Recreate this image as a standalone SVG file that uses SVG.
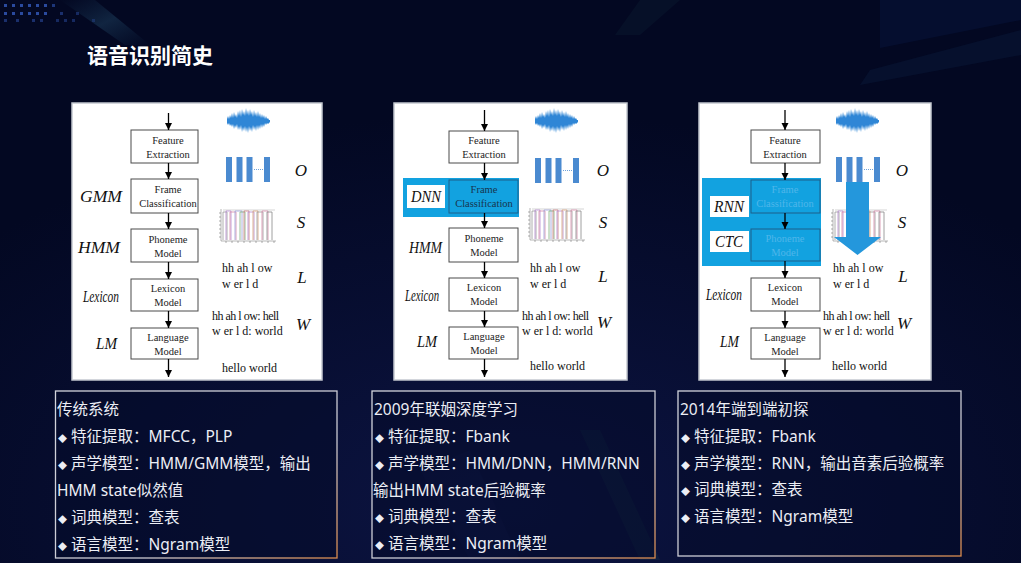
<svg xmlns="http://www.w3.org/2000/svg" width="1021" height="563" viewBox="0 0 1021 563">
<defs>
  <radialGradient id="bgGlow" cx="0.5" cy="0.9" r="0.7">
    <stop offset="0" stop-color="#0c1442"/>
    <stop offset="1" stop-color="#030822"/>
  </radialGradient>
  <linearGradient id="streak" x1="0" y1="0" x2="1" y2="1">
    <stop offset="0" stop-color="#1f4a6a" stop-opacity="0"/>
    <stop offset="0.5" stop-color="#2a5a7a" stop-opacity="0.35"/>
    <stop offset="1" stop-color="#1f4a6a" stop-opacity="0"/>
  </linearGradient>
  <linearGradient id="boxBorder" x1="0" y1="0" x2="1" y2="1">
    <stop offset="0" stop-color="#d2d4dc"/>
    <stop offset="0.65" stop-color="#c9c9d2"/>
    <stop offset="1" stop-color="#d98a4c"/>
  </linearGradient>
  <marker id="ah" markerUnits="userSpaceOnUse" markerWidth="7" markerHeight="8" refX="7" refY="3.5" orient="auto">
    <path d="M0,0 L7,3.5 L0,7 z" fill="#000"/>
  </marker>
  <g id="wave">
    <polygon fill="#2f86d6" points="0,-2 1,-5 2,-2 3,-6 4,-3 5,-8 6,-3 7,-9 8,-4 9,-7 10,-3 11,-10 12,-5 13,-11 14,-4 15,-12 16,-6 17,-10 18,-5 19,-13 20,-6 21,-11 22,-5 23,-12 24,-6 25,-10 26,-4 27,-11 28,-5 29,-9 30,-4 31,-10 32,-4 33,-8 34,-3 35,-7 36,-3 37,-6 38,-2 39,-5 40,-2 41,-3 42,-1 43,-1 43,1 42,2 41,3 40,2 39,4 38,2 37,6 36,3 35,7 34,3 33,8 32,4 31,9 30,4 29,10 28,5 27,9 26,4 25,11 24,6 23,10 22,5 21,12 20,6 19,11 18,5 17,10 16,6 15,11 14,4 13,9 12,5 11,9 10,3 9,7 8,4 7,8 6,3 5,6 4,3 3,5 2,2 1,4 0,2"/>
  </g>
  <g id="bars" fill="#4a8ad0">
    <rect x="0" y="0" width="6" height="25"/>
    <rect x="10.5" y="0" width="6" height="25"/>
    <rect x="20.5" y="0" width="6" height="25"/>
    <path d="M28,12.5H37" stroke="#4a8ad0" stroke-width="0.8" stroke-dasharray="1 1"/>
    <rect x="38" y="0" width="6" height="25"/>
  </g>
  <g id="chart" fill="none" stroke-width="0.8">
    <path d="M3,2V34H58" stroke="#888" stroke-width="0.6"/>
    <path d="M1,6H3M1,10H3M1,14H3M1,18H3M1,22H3M1,26H3M1,30H3M8,34V36M14,34V36M20,34V36M26,34V36M32,34V36M38,34V36M44,34V36M50,34V36M56,34V36" stroke="#777" stroke-width="0.6"/>
    <path d="M5,3H57" stroke="#bbb" stroke-width="0.6"/>
    <path d="M5,33V5H9V33" stroke="#9a9a9a"/>
    <path d="M8,33V4H13V33" stroke="#b58ad0"/>
    <path d="M12,33V5H18V33" stroke="#d68aa8"/>
    <path d="M17,33V4H24V33" stroke="#9aa0d8"/>
    <path d="M22,33V5H27V33" stroke="#7fb07f"/>
    <path d="M26,33V4H31V33" stroke="#c87c7c"/>
    <path d="M30,33V5H36V33" stroke="#b58ad0"/>
    <path d="M35,33V4H40V33" stroke="#d6a07a"/>
    <path d="M39,33V5H45V33" stroke="#9a9a9a"/>
    <path d="M44,33V4H50V33" stroke="#d68aa8"/>
    <path d="M49,33V5H54V33" stroke="#888"/>
  </g>
</defs>
<style>
  .panel { fill: #ffffff; stroke: #c4c8d0; stroke-width: 1.5; }
  .box { fill: #ffffff; stroke: #4a4a4a; stroke-width: 1; }
  .bt { font-family: "Liberation Serif", "Times New Roman", serif; font-size: 10.5px; fill: #222; text-anchor: middle; }
  .lbl { font-family: "Liberation Serif", "Times New Roman", serif; font-style: italic; font-size: 16px; fill: #111; }
  .osl { font-family: "Liberation Serif", "Times New Roman", serif; font-style: italic; font-size: 17px; fill: #111; text-anchor: middle; }
  .ph { font-family: "Liberation Serif", "Times New Roman", serif; font-size: 12px; fill: #111; }
  .tight { letter-spacing: -0.5px; }
  .blue { fill: #12a2e0; }
  .ibox { fill: #12a2e0; stroke: #1d5f8a; stroke-width: 1; }
  .wbox { fill: #ffffff; }
  .fade { fill: #4fb6ea; }
  .dk { fill: #18344f; }
  .conn line { stroke: #000; stroke-width: 1.3; marker-end: url(#ah); }
  .tbox { fill: #050b2c; fill-opacity: 0.6; stroke: url(#boxBorder); stroke-width: 1.3; }
  .tx { font-family: "Noto Sans", "Noto Sans CJK SC", sans-serif; font-size: 15.5px; fill: #eceef5; }
  .bul { font-size: 9px; }
  .title { font-family: "Noto Sans CJK SC", "Noto Sans", sans-serif; font-size: 21px; font-weight: bold; fill: #ffffff; }
  .dot { fill: #2a4a9e; }
</style>

<!-- background -->
<rect x="0" y="0" width="1021" height="563" fill="url(#bgGlow)"/>
<polygon points="60,0 95,0 150,45 125,45" fill="url(#streak)"/>
<polygon points="640,0 680,0 640,35 615,35" fill="#16303f" opacity="0.2"/>
<polygon points="880,0 1021,0 1021,20 880,48" fill="#0e2a66" opacity="0.2"/>
<polygon points="1021,30 1021,55 860,85 870,70" fill="#14305a" opacity="0.2"/>
<polygon points="580,430 600,430 660,560 640,560" fill="#1a3a4a" opacity="0.3"/>
<polygon points="420,470 470,450 520,560 470,560" fill="#17245a" opacity="0.25"/>
<g id="dots">
  <rect class="dot" x="4" y="4" width="3" height="3"/><rect class="dot" x="12" y="4" width="3" height="3"/><rect class="dot" x="20" y="4" width="3" height="3"/><rect class="dot" x="28" y="4" width="3" height="3"/><rect class="dot" x="36" y="4" width="3" height="3"/><rect class="dot" x="44" y="4" width="3" height="3"/><rect class="dot" x="52" y="4" width="3" height="3" opacity="0.7"/>
  <rect class="dot" x="4" y="12" width="3" height="3"/><rect class="dot" x="12" y="12" width="3" height="3"/><rect class="dot" x="20" y="12" width="3" height="3"/><rect class="dot" x="28" y="12" width="3" height="3"/><rect class="dot" x="36" y="12" width="3" height="3"/><rect class="dot" x="44" y="12" width="3" height="3"/><rect class="dot" x="60" y="12" width="3" height="3" opacity="0.6"/><rect class="dot" x="76" y="12" width="3" height="3" opacity="0.5"/>
  <rect class="dot" x="4" y="19" width="3" height="3" opacity="0.6"/><rect class="dot" x="16" y="19" width="3" height="3" opacity="0.6"/><rect class="dot" x="32" y="19" width="3" height="3" opacity="0.6"/><rect class="dot" x="40" y="19" width="3" height="3" opacity="0.6"/><rect class="dot" x="56" y="19" width="3" height="3" opacity="0.5"/><rect class="dot" x="64" y="19" width="3" height="3" opacity="0.5"/><rect class="dot" x="72" y="19" width="3" height="3" opacity="0.5"/><rect class="dot" x="92" y="19" width="3" height="3" opacity="0.4"/>
</g>

<text class="title" x="87" y="63">语音识别简史</text>

<!-- ============ Panel 1 ============ -->
<g id="panel1">
  <rect class="panel" x="72" y="103" width="250" height="277"/>
  <use href="#wave" x="227" y="121"/>
  <use href="#bars" x="226" y="157"/>
  <use href="#chart" x="218" y="207"/>
  <text class="osl" x="301" y="176">O</text>
  <text class="osl" x="301" y="228">S</text>
  <text class="osl" x="302" y="283">L</text>
  <text class="osl" x="303" y="330">W</text>
  <text class="ph" x="222" y="272">hh ah l ow</text>
  <text class="ph" x="222" y="288">w er l d</text>
  <text class="ph tight" x="212" y="320">hh ah l ow: hell</text>
  <text class="ph" x="212" y="335">w er l d: world</text>
  <text class="ph" x="222" y="372">hello world</text>
  <text class="lbl" x="80" y="202" textLength="42" lengthAdjust="spacingAndGlyphs">GMM</text>
  <text class="lbl" x="78" y="253" textLength="42" lengthAdjust="spacingAndGlyphs">HMM</text>
  <text class="lbl" x="83" y="302" textLength="36" lengthAdjust="spacingAndGlyphs">Lexicon</text>
  <text class="lbl" x="96" y="349" textLength="21" lengthAdjust="spacingAndGlyphs">LM</text>
</g>
<g id="p1-feature"><rect class="box" x="131" y="130" width="67" height="33"/><text class="bt" x="168" y="144">Feature</text><text class="bt" x="168" y="158">Extraction</text></g>
<g id="p1-frame"><rect class="box" x="131" y="179" width="67" height="34"/><text class="bt" x="168" y="193">Frame</text><text class="bt" x="168" y="207">Classification</text></g>
<g id="p1-phoneme"><rect class="box" x="131" y="229" width="67" height="33"/><text class="bt" x="168" y="243">Phoneme</text><text class="bt" x="168" y="257">Model</text></g>
<g id="p1-lexicon"><rect class="box" x="131" y="279" width="67" height="32"/><text class="bt" x="168" y="292">Lexicon</text><text class="bt" x="168" y="306">Model</text></g>
<g id="p1-language"><rect class="box" x="131" y="328" width="67" height="31"/><text class="bt" x="168" y="341">Language</text><text class="bt" x="168" y="355">Model</text></g>

<!-- ============ Panel 2 ============ -->
<g id="panel2">
  <rect class="panel" x="394" y="103" width="233" height="277"/>
  <use href="#wave" x="535" y="121"/>
  <use href="#bars" x="535" y="158"/>
  <use href="#chart" x="527" y="206"/>
  <text class="osl" x="603" y="176">O</text>
  <text class="osl" x="603" y="228">S</text>
  <text class="osl" x="603" y="282">L</text>
  <text class="osl" x="604" y="328">W</text>
  <text class="ph" x="530" y="272">hh ah l ow</text>
  <text class="ph" x="530" y="288">w er l d</text>
  <text class="ph tight" x="522" y="320">hh ah l ow: hell</text>
  <text class="ph" x="522" y="335">w er l d: world</text>
  <text class="ph" x="530" y="370">hello world</text>
  <text class="lbl" x="409" y="253" textLength="33" lengthAdjust="spacingAndGlyphs">HMM</text>
  <text class="lbl" x="405" y="301" textLength="34" lengthAdjust="spacingAndGlyphs">Lexicon</text>
  <text class="lbl" x="417" y="347" textLength="20" lengthAdjust="spacingAndGlyphs">LM</text>
</g>
<g id="p2-dnn">
  <rect class="blue" x="403" y="178" width="116" height="39"/>
  <rect class="wbox" x="407" y="185" width="38" height="23"/>
  <text class="lbl" x="411" y="202" textLength="30" lengthAdjust="spacingAndGlyphs">DNN</text>
</g>
<g id="p2-feature"><rect class="box" x="449" y="131" width="69" height="32"/><text class="bt" x="484" y="144">Feature</text><text class="bt" x="484" y="158">Extraction</text></g>
<g id="p2-frame"><rect class="ibox" x="449" y="180" width="69" height="33"/><text class="bt dk" x="484" y="193">Frame</text><text class="bt dk" x="484" y="207">Classification</text></g>
<g id="p2-phoneme"><rect class="box" x="449" y="228" width="69" height="34"/><text class="bt" x="484" y="242">Phoneme</text><text class="bt" x="484" y="256">Model</text></g>
<g id="p2-lexicon"><rect class="box" x="449" y="278" width="69" height="33"/><text class="bt" x="484" y="291">Lexicon</text><text class="bt" x="484" y="305">Model</text></g>
<g id="p2-language"><rect class="box" x="449" y="327" width="69" height="32"/><text class="bt" x="484" y="340">Language</text><text class="bt" x="484" y="354">Model</text></g>

<!-- ============ Panel 3 ============ -->
<g id="panel3">
  <rect class="panel" x="699" y="103" width="232" height="277"/>
  <use href="#wave" x="836" y="121"/>
  <use href="#bars" x="836" y="157"/>
  <use href="#chart" x="830" y="207"/>
  <polygon points="846,182 869,182 869,237 881,237 857.5,255 834,237 846,237" fill="#2497dc"/>
  <text class="osl" x="902" y="176">O</text>
  <text class="osl" x="902" y="228">S</text>
  <text class="osl" x="903" y="282">L</text>
  <text class="osl" x="904" y="329">W</text>
  <text class="ph" x="833" y="272">hh ah l ow</text>
  <text class="ph" x="833" y="288">w er l d</text>
  <text class="ph tight" x="823" y="320">hh ah l ow: hell</text>
  <text class="ph" x="823" y="335">w er l d: world</text>
  <text class="ph" x="832" y="370">hello world</text>
  <text class="lbl" x="706" y="300" textLength="36" lengthAdjust="spacingAndGlyphs">Lexicon</text>
  <text class="lbl" x="720" y="347" textLength="19" lengthAdjust="spacingAndGlyphs">LM</text>
</g>
<g id="p3-rnnctc">
  <rect class="blue" x="702" y="178" width="119" height="88"/>
  <rect class="wbox" x="710" y="196" width="39" height="21"/>
  <text class="lbl" x="714" y="212" textLength="30" lengthAdjust="spacingAndGlyphs">RNN</text>
  <rect class="wbox" x="710" y="231" width="39" height="21"/>
  <text class="lbl" x="715" y="247" textLength="28" lengthAdjust="spacingAndGlyphs">CTC</text>
</g>
<g id="p3-feature"><rect class="box" x="751" y="130" width="69" height="33"/><text class="bt" x="785" y="144">Feature</text><text class="bt" x="785" y="158">Extraction</text></g>
<g id="p3-frame"><rect class="ibox" x="751" y="180" width="69" height="33"/><text class="bt fade" x="785" y="193">Frame</text><text class="bt fade" x="785" y="207">Classification</text></g>
<g id="p3-phoneme"><rect class="ibox" x="751" y="229" width="69" height="32"/><text class="bt fade" x="785" y="242">Phoneme</text><text class="bt fade" x="785" y="256">Model</text></g>
<g id="p3-lexicon"><rect class="box" x="751" y="278" width="69" height="33"/><text class="bt" x="785" y="291">Lexicon</text><text class="bt" x="785" y="305">Model</text></g>
<g id="p3-language"><rect class="box" x="751" y="328" width="69" height="31"/><text class="bt" x="785" y="341">Language</text><text class="bt" x="785" y="355">Model</text></g>

<!-- connectors -->
<g id="connectors" class="conn">
  <line x1="168.5" y1="113" x2="168.5" y2="130"/>
  <line x1="168.5" y1="163" x2="168.5" y2="179"/>
  <line x1="168.5" y1="213" x2="168.5" y2="229"/>
  <line x1="168.5" y1="262" x2="168.5" y2="279"/>
  <line x1="168.5" y1="311" x2="168.5" y2="328"/>
  <line x1="168.5" y1="359" x2="168.5" y2="377"/>
  <line x1="484.5" y1="110" x2="484.5" y2="131"/>
  <line x1="484.5" y1="163" x2="484.5" y2="180"/>
  <line x1="484.5" y1="213" x2="484.5" y2="228"/>
  <line x1="484.5" y1="262" x2="484.5" y2="278"/>
  <line x1="484.5" y1="311" x2="484.5" y2="327"/>
  <line x1="484.5" y1="359" x2="484.5" y2="377"/>
  <line x1="785" y1="110" x2="785" y2="130"/>
  <line x1="785" y1="163" x2="785" y2="180"/>
  <line x1="785" y1="213" x2="785" y2="229"/>
  <line x1="785" y1="261" x2="785" y2="278"/>
  <line x1="785" y1="311" x2="785" y2="328"/>
  <line x1="785" y1="359" x2="785" y2="377"/>
</g>

<!-- text boxes -->
<g id="desc1">
  <rect class="tbox" x="55.5" y="391" width="281.5" height="167"/>
  <text class="tx" x="57" y="415">传统系统</text>
  <text class="tx" x="58" y="442"><tspan class="bul">◆</tspan> 特征提取：MFCC，PLP</text>
  <text class="tx" x="58" y="469"><tspan class="bul">◆</tspan> 声学模型：HMM/GMM模型，输出</text>
  <text class="tx" x="57" y="496">HMM state似然值</text>
  <text class="tx" x="58" y="523"><tspan class="bul">◆</tspan> 词典模型：查表</text>
  <text class="tx" x="58" y="550"><tspan class="bul">◆</tspan> 语言模型：Ngram模型</text>
</g>
<g id="desc2">
  <rect class="tbox" x="372" y="391" width="283" height="167"/>
  <text class="tx" x="374" y="415">2009年联姻深度学习</text>
  <text class="tx" x="375" y="442"><tspan class="bul">◆</tspan> 特征提取：Fbank</text>
  <text class="tx" x="375" y="469"><tspan class="bul">◆</tspan> 声学模型：HMM/DNN，HMM/RNN</text>
  <text class="tx" x="373" y="496">输出HMM state后验概率</text>
  <text class="tx" x="375" y="522"><tspan class="bul">◆</tspan> 词典模型：查表</text>
  <text class="tx" x="375" y="549"><tspan class="bul">◆</tspan> 语言模型：Ngram模型</text>
</g>
<g id="desc3">
  <rect class="tbox" x="678" y="391" width="283" height="165"/>
  <text class="tx" x="680" y="415">2014年端到端初探</text>
  <text class="tx" x="681" y="442"><tspan class="bul">◆</tspan> 特征提取：Fbank</text>
  <text class="tx" x="681" y="469"><tspan class="bul">◆</tspan> 声学模型：RNN，输出音素后验概率</text>
  <text class="tx" x="681" y="495"><tspan class="bul">◆</tspan> 词典模型：查表</text>
  <text class="tx" x="681" y="522"><tspan class="bul">◆</tspan> 语言模型：Ngram模型</text>
</g>
</svg>
